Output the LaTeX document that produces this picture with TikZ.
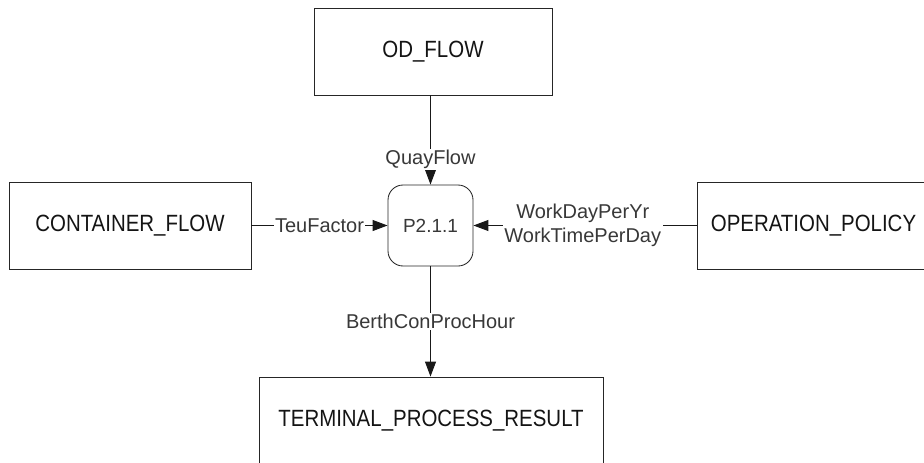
\documentclass[tikz,border=0pt]{standalone}
\usepackage{fontspec}
\setmainfont{Liberation Sans}
\newfontfamily\boxfont[FakeStretch=0.87]{Liberation Sans}
\usetikzlibrary{arrows.meta}
\tikzset{
  x=1pt, y=-1pt,
  entity/.style={draw=black!85, line width=0.85pt, fill=white, rectangle,
    minimum height=87pt, inner sep=0pt,
    font=\boxfont\fontsize{23.5}{28}\selectfont, text=black!92},
  procbox/.style={draw=black!85, line width=0.85pt, fill=white, rectangle,
    rounded corners=15pt, minimum width=85pt, minimum height=81pt,
    inner sep=0pt, font=\fontsize{19}{23}\selectfont, text=black!78},
  flow/.style={draw=black!90, line width=0.95pt,
    -{Triangle[length=15pt,width=11pt]}},
  lbl/.style={fill=white, inner sep=1.5pt, align=center,
    font=\fontsize{20}{24}\selectfont, text=black!78}
}
\begin{document}
\begin{tikzpicture}
  \useasboundingbox (0,0) rectangle (924,463);
  \clip (0,0) rectangle (924,463);

  % data stores around the process
  \node[entity, minimum width=238pt] (od)  at (433,51.5)  {OD\_FLOW};
  \node[entity, minimum width=242pt] (cf)  at (130,225.5) {CONTAINER\_FLOW};
  \node[entity, minimum width=233pt] (op)  at (813.5,225.5) {OPERATION\_POLICY};
  \node[entity, minimum width=344pt] (tpr) at (431,420.5) {TERMINAL\_PROCESS\_RESULT};

  % the process itself
  \node[procbox] (proc) at (430.5,225.5) {P2.1.1};

  % data flows
  \draw[flow] (od.south -| proc.north) -- node[lbl, pos=0.72] {QuayFlow} (proc.north);
  \draw[flow] (cf.east) -- node[lbl] {TeuFactor} (proc.west);
  \draw[flow] (op.west) -- node[lbl, pos=0.51] {WorkDayPerYr\\WorkTimePerDay} (proc.east);
  \draw[flow] (proc.south) -- node[lbl, pos=0.5] {BerthConProcHour} (proc.south |- tpr.north);
\end{tikzpicture}
\end{document}
